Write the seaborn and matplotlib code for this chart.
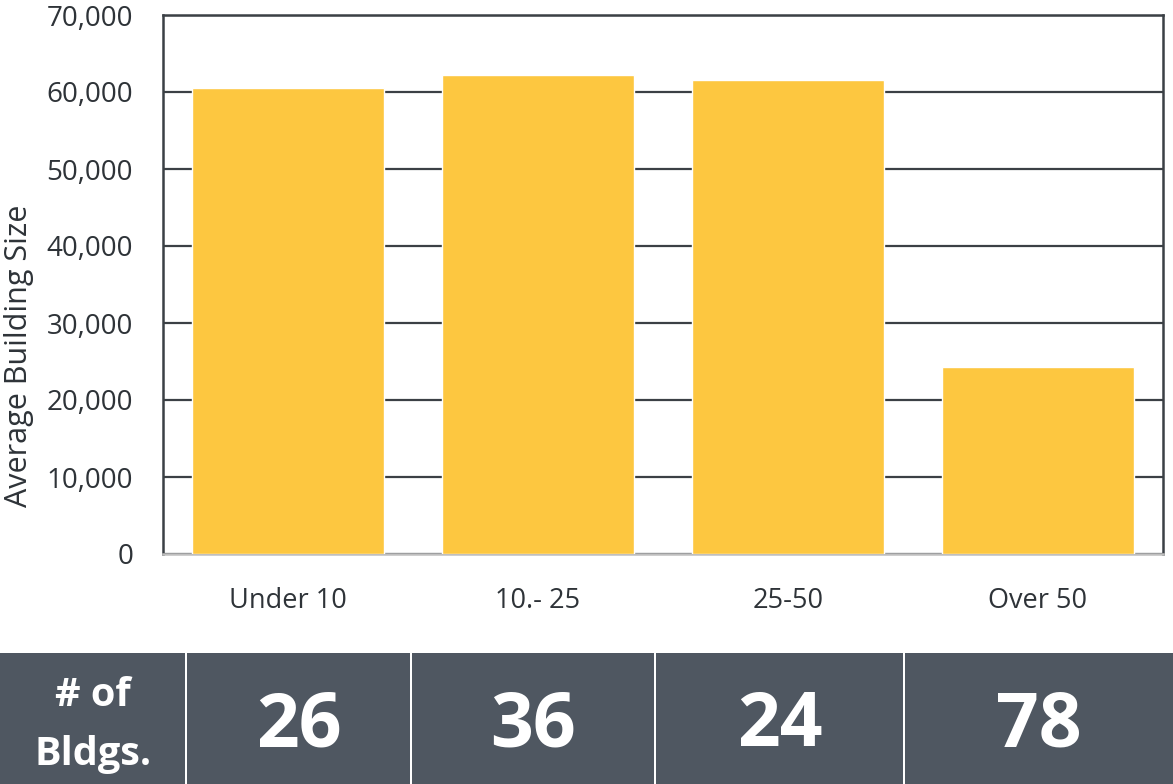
import matplotlib
matplotlib.use("Agg")
import matplotlib.pyplot as plt
import seaborn as sns
import pandas as pd
from matplotlib.patches import Rectangle

# Data
categories = ["Under 10", "10.- 25", "25-50", "Over 50"]
avg_size = [60500, 62200, 61500, 24300]
bldg_counts = [26, 36, 24, 78]
table_header = "# of\nBldgs."

sns.set_theme(style="white")
plt.rcParams["font.family"] = ["Open Sans", "DejaVu Sans"]

BAR_COLOR = "#FDC740"
GRID_COLOR = "#3B4045"
TEXT_COLOR = "#2E3338"
CELL_COLOR = "#4F5761"

W, H = 1173, 784
fig = plt.figure(figsize=(W / 100, H / 100), dpi=100)

ax = fig.add_axes([163 / W, 1 - 554 / H, 1000 / W, 539 / H])
df = pd.DataFrame({"cat": categories, "size": avg_size})
sns.barplot(data=df, x="cat", y="size", color=BAR_COLOR, saturation=1,
            width=0.77, ax=ax, zorder=3)

ax.set_ylim(0, 70000)
ax.set_yticks(range(0, 70001, 10000))
ax.set_yticklabels([f"{v:,}" for v in range(0, 70001, 10000)],
                   fontsize=20, color=TEXT_COLOR)
ax.tick_params(axis="x", labelsize=19.5, labelcolor=TEXT_COLOR, pad=24, length=0)
ax.tick_params(axis="y", pad=21.5, length=0)
ax.set_xlabel("")
ax.set_ylabel("Average Building Size", fontsize=22, color=TEXT_COLOR)
ax.yaxis.set_label_coords(-0.129, 0.367)
ax.yaxis.grid(True, color=GRID_COLOR, linewidth=1.6, zorder=0)
ax.set_axisbelow(True)
for side in ["left", "right", "top"]:
    ax.spines[side].set_visible(True)
    ax.spines[side].set_color(GRID_COLOR)
    ax.spines[side].set_linewidth(1.8)
ax.spines["bottom"].set_color("#BFBFBF")
ax.spines["bottom"].set_linewidth(1.8)

# Count table below the chart
tab = fig.add_axes([0, 0, 1, 131 / H])
tab.set_xlim(0, W)
tab.set_ylim(0, 131)
tab.axis("off")
edges = [0, 186, 411, 655, 904, W]
labels = [table_header] + [str(c) for c in bldg_counts]
for i, lab in enumerate(labels):
    x0, x1 = edges[i], edges[i + 1]
    left = x0 + (1 if i else 0)
    right = x1 - (1 if i < len(labels) - 1 else 0)
    tab.add_patch(Rectangle((left, 0), right - left, 131,
                            facecolor=CELL_COLOR, edgecolor="none"))
    if i == 0:
        tab.text((x0 + x1) / 2, 59, lab, ha="center", va="center", color="white",
                 fontsize=28.5, fontweight="bold", linespacing=1.65)
    else:
        tab.text((x0 + x1) / 2, 57, lab, ha="center", va="center", color="white",
                 fontsize=54, fontweight="bold")

fig.savefig("out.png", dpi=100)
